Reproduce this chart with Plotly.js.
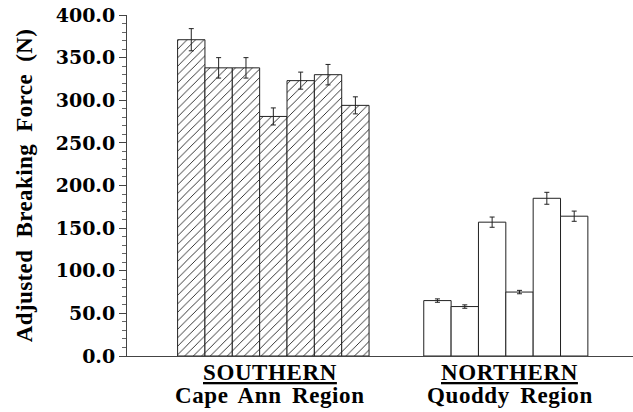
<!DOCTYPE html>
<html>
<head>
<meta charset="utf-8">
<script src="https://cdn.plot.ly/plotly-3.0.1.min.js"></script>
<style>html,body{margin:0;padding:0;background:#fff;}#chart{width:633px;height:412px;}
.ytitle{word-spacing:6px;letter-spacing:0.4px;}
.annotation-text{letter-spacing:0.6px;word-spacing:4px;}
</style>
</head>
<body>
<div id="chart"></div>
<script>
// Data
const southernValues = [371, 338, 338, 281, 323, 330, 294];
const southernErrors = [13, 12, 12, 10, 10, 12, 10];
const northernValues = [65, 58, 157, 75, 185, 164];
const northernErrors = [2, 2, 6, 2, 7, 6];
const groupNames = ["SOUTHERN", "NORTHERN"];
const regionNames = ["Cape Ann Region", "Quoddy Region"];
const yTickVals = [0, 50, 100, 150, 200, 250, 300, 350, 400];
const yTickText = ["0.0", "50.0", "100.0", "150.0", "200.0", "250.0", "300.0", "350.0", "400.0"];
const yTitle = "Adjusted Breaking Force (N)";

// positions: bar slots, with a two-slot gap between the groups
const gap = 2;
const southX = southernValues.map((_, i) => i);
const northStart = southernValues.length + gap;
const northX = northernValues.map((_, i) => northStart + i);
const groupCenters = [
  (southX[0] + southX[southX.length - 1]) / 2 - 0.12,
  (northX[0] + northX[northX.length - 1]) / 2 + 0.15
];

const serif = "Liberation Serif, Times New Roman, serif";

const traces = [
  {
    type: "bar", x: southX, y: southernValues, width: 1,
    marker: {
      color: "white",
      line: {color: "#222", width: 1},
      pattern: {shape: "/", fgcolor: "#111", bgcolor: "white", size: 6, solidity: 0.14}
    },
    error_y: {type: "data", array: southernErrors, visible: true, color: "#222", thickness: 1, width: 2.5},
    hoverinfo: "none", showlegend: false
  },
  {
    type: "bar", x: northX, y: northernValues, width: 1,
    marker: {color: "white", line: {color: "#222", width: 1}},
    error_y: {type: "data", array: northernErrors, visible: true, color: "#222", thickness: 1, width: 2.5},
    hoverinfo: "none", showlegend: false
  }
];

// plot area spans pixel rows 15..356 (341 px)
const toPaper = px => (356 - px) / 341;
const annFont = {family: serif, size: 23, color: "black", weight: "bold"};
const annotations = [];
groupCenters.forEach((c, i) => {
  annotations.push({
    x: c, xref: "x", y: toPaper(372), yref: "paper", yanchor: "middle", xanchor: "center",
    text: "<u>" + groupNames[i] + "</u>", showarrow: false, font: annFont
  });
  annotations.push({
    x: c, xref: "x", y: toPaper(396), yref: "paper", yanchor: "middle", xanchor: "center",
    text: regionNames[i], showarrow: false, font: annFont
  });
});

const layout = {
  width: 633, height: 412,
  margin: {l: 127, r: 0, t: 15, b: 56},
  paper_bgcolor: "white", plot_bgcolor: "white",
  showlegend: false,
  annotations: annotations,
  xaxis: {
    range: [-2.35, 16.15],
    showgrid: false, zeroline: false,
    showline: true, linecolor: "#444", linewidth: 1,
    ticks: "", showticklabels: false,
    fixedrange: true
  },
  yaxis: {
    range: [0, 400],
    showgrid: false, zeroline: false,
    showline: true, linecolor: "#444", linewidth: 1,
    ticks: "outside", ticklen: 7, tickcolor: "#444", tickwidth: 1,
    tickmode: "array", tickvals: yTickVals, ticktext: yTickText,
    tickfont: {family: "DejaVu Serif, serif", size: 19, color: "black", weight: "bold"},
    minor: {dtick: 10, ticks: "outside", ticklen: 4, tickcolor: "#666", tickwidth: 1},
    title: {text: yTitle, font: {family: serif, size: 23, color: "black", weight: "bold"}, standoff: 16},
    fixedrange: true
  },
  bargap: 0
};

Plotly.newPlot("chart", traces, layout, {staticPlot: true, displayModeBar: false});
</script>
</body>
</html>
